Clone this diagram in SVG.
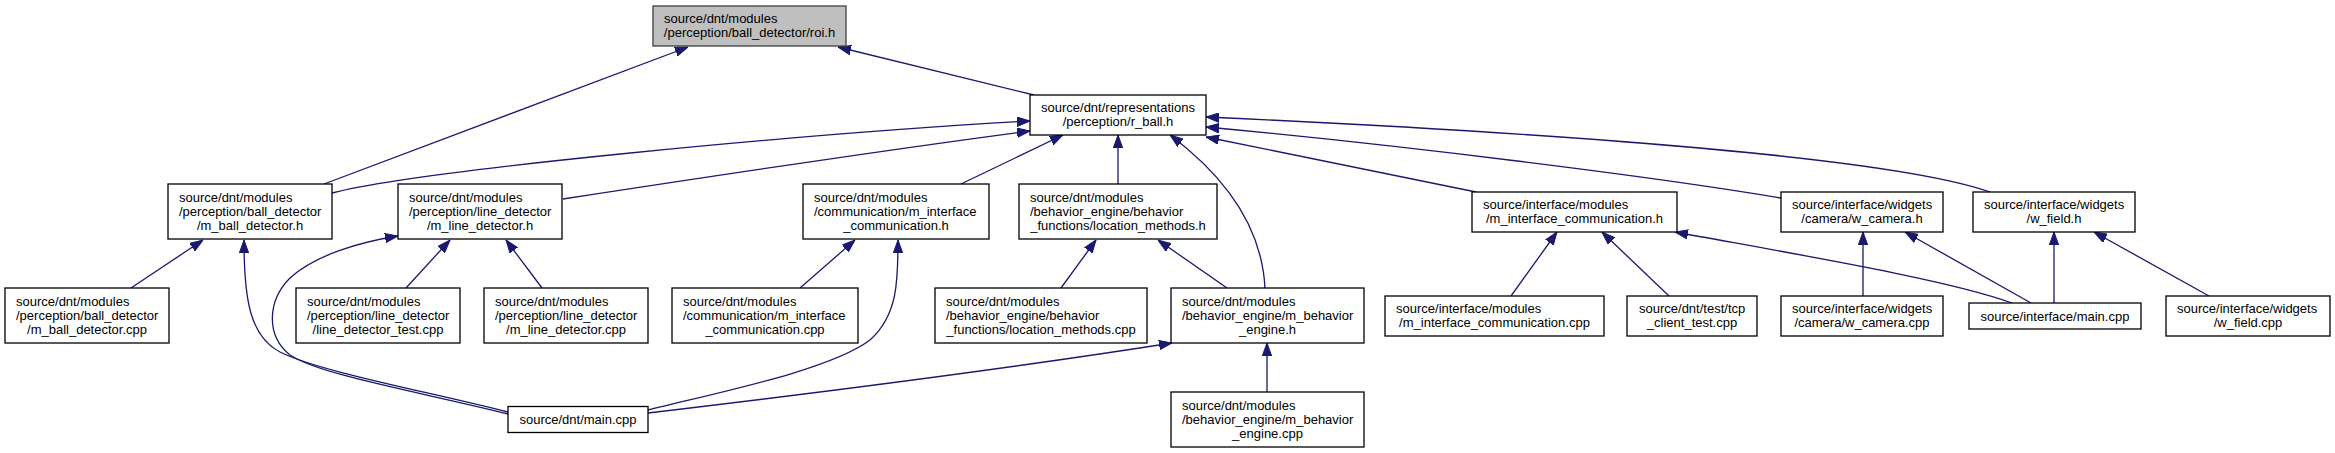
<svg xmlns="http://www.w3.org/2000/svg" width="2335" height="453" viewBox="0 0 2335 453">
<style>
.bg{fill:#ffffff}
.n rect{fill:#ffffff;stroke:#000000;stroke-width:1.3}
.n rect.root{fill:#bfbfbf;stroke:#404040}
.n text{font-family:"Liberation Sans",Arial,sans-serif;font-size:13px;fill:#000000}
.c{text-anchor:middle}
.e path{fill:none;stroke:#191970;stroke-width:1.3;marker-end:url(#ah)}
</style>
<defs>
<marker id="ah" viewBox="0 0 13 10" refX="13" refY="5" markerWidth="13" markerHeight="10" markerUnits="userSpaceOnUse" orient="auto">
<path d="M0,0.3 L13,5 L0,9.7 z" fill="#191970" stroke="#191970" stroke-width="1"/>
</marker>
</defs>
<rect class="bg" x="0" y="0" width="2335" height="453"/>
<g id="edges" class="e">
<path d="M324,184 L688,47"/>
<path d="M1034,95 L838,47"/>
<path d="M332,193 C420,170 800,134 1030,121"/>
<path d="M563,199 C700,178 900,148 1030,131"/>
<path d="M961,184 L1063,135"/>
<path d="M1118,184 L1118,135"/>
<path d="M1265,288 C1262,230 1230,180 1170,135"/>
<path d="M1476,192 L1206,137"/>
<path d="M1781,198 C1650,176 1400,145 1206,127"/>
<path d="M1990,192 C1900,160 1600,135 1206,117"/>
<path d="M131,288 L203,240"/>
<path d="M508,412 C430,392 320,372 280,352 C250,336 244,300 244,240"/>
<path d="M406,288 L450,240"/>
<path d="M542,288 L506,240"/>
<path d="M508,414 C420,392 320,375 290,355 C265,335 268,300 290,278 C315,255 360,242 398,236"/>
<path d="M800,288 L855,240"/>
<path d="M648,410 C720,392 830,370 870,340 C898,315 898,280 898,240"/>
<path d="M1061,288 L1096,240"/>
<path d="M1227,288 L1158,240"/>
<path d="M648,413 C800,395 1000,370 1172,343"/>
<path d="M1267,392 L1267,343"/>
<path d="M1511,296 L1557,232"/>
<path d="M1669,296 L1602,232"/>
<path d="M2012,303 C1950,280 1800,255 1675,232"/>
<path d="M1863,296 L1863,232"/>
<path d="M2031,303 L1905,232"/>
<path d="M2054,303 L2054,232"/>
<path d="M2209,296 L2094,232"/>
</g>
<g id="roi_h" class="n">
<rect class="root" x="653" y="6" width="193" height="40"/>
<text x="664" y="23">source/dnt/modules</text>
<text class="c" x="749.5" y="37">/perception/ball_detector/roi.h</text>
</g>
<g id="r_ball_h" class="n">
<rect x="1030" y="95" width="176" height="40"/>
<text x="1041" y="112">source/dnt/representations</text>
<text class="c" x="1118" y="126">/perception/r_ball.h</text>
</g>
<g id="m_ball_detector_h" class="n">
<rect x="168" y="184" width="164" height="55"/>
<text x="179" y="201.5">source/dnt/modules</text>
<text x="179" y="215.5">/perception/ball_detector</text>
<text class="c" x="250" y="229.5">/m_ball_detector.h</text>
</g>
<g id="m_line_detector_h" class="n">
<rect x="398" y="184" width="164" height="55"/>
<text x="409" y="201.5">source/dnt/modules</text>
<text x="409" y="215.5">/perception/line_detector</text>
<text class="c" x="480" y="229.5">/m_line_detector.h</text>
</g>
<g id="dnt_m_interface_communication_h" class="n">
<rect x="803" y="184" width="186" height="55"/>
<text x="814" y="201.5">source/dnt/modules</text>
<text x="814" y="215.5">/communication/m_interface</text>
<text class="c" x="896" y="229.5">_communication.h</text>
</g>
<g id="location_methods_h" class="n">
<rect x="1019" y="184" width="198" height="55"/>
<text x="1030" y="201.5">source/dnt/modules</text>
<text x="1030" y="215.5">/behavior_engine/behavior</text>
<text class="c" x="1118" y="229.5">_functions/location_methods.h</text>
</g>
<g id="if_m_interface_communication_h" class="n">
<rect x="1472" y="192" width="205" height="40"/>
<text x="1483" y="209">source/interface/modules</text>
<text class="c" x="1574.5" y="223">/m_interface_communication.h</text>
</g>
<g id="w_camera_h" class="n">
<rect x="1781" y="192" width="162" height="40"/>
<text x="1792" y="209">source/interface/widgets</text>
<text class="c" x="1862" y="223">/camera/w_camera.h</text>
</g>
<g id="w_field_h" class="n">
<rect x="1973" y="192" width="162" height="40"/>
<text x="1984" y="209">source/interface/widgets</text>
<text class="c" x="2054" y="223">/w_field.h</text>
</g>
<g id="m_ball_detector_cpp" class="n">
<rect x="5" y="288" width="164" height="55"/>
<text x="16" y="305.5">source/dnt/modules</text>
<text x="16" y="319.5">/perception/ball_detector</text>
<text class="c" x="87" y="333.5">/m_ball_detector.cpp</text>
</g>
<g id="line_detector_test_cpp" class="n">
<rect x="296" y="288" width="164" height="55"/>
<text x="307" y="305.5">source/dnt/modules</text>
<text x="307" y="319.5">/perception/line_detector</text>
<text class="c" x="378" y="333.5">/line_detector_test.cpp</text>
</g>
<g id="m_line_detector_cpp" class="n">
<rect x="484" y="288" width="164" height="55"/>
<text x="495" y="305.5">source/dnt/modules</text>
<text x="495" y="319.5">/perception/line_detector</text>
<text class="c" x="566" y="333.5">/m_line_detector.cpp</text>
</g>
<g id="dnt_m_interface_communication_cpp" class="n">
<rect x="672" y="288" width="186" height="55"/>
<text x="683" y="305.5">source/dnt/modules</text>
<text x="683" y="319.5">/communication/m_interface</text>
<text class="c" x="765" y="333.5">_communication.cpp</text>
</g>
<g id="location_methods_cpp" class="n">
<rect x="935" y="288" width="212" height="55"/>
<text x="946" y="305.5">source/dnt/modules</text>
<text x="946" y="319.5">/behavior_engine/behavior</text>
<text class="c" x="1041" y="333.5">_functions/location_methods.cpp</text>
</g>
<g id="m_behavior_engine_h" class="n">
<rect x="1171" y="288" width="193" height="55"/>
<text x="1182" y="305.5">source/dnt/modules</text>
<text x="1182" y="319.5">/behavior_engine/m_behavior</text>
<text class="c" x="1267.5" y="333.5">_engine.h</text>
</g>
<g id="m_behavior_engine_cpp" class="n">
<rect x="1171" y="392" width="193" height="55"/>
<text x="1182" y="409.5">source/dnt/modules</text>
<text x="1182" y="423.5">/behavior_engine/m_behavior</text>
<text class="c" x="1267.5" y="437.5">_engine.cpp</text>
</g>
<g id="if_m_interface_communication_cpp" class="n">
<rect x="1385" y="296" width="219" height="40"/>
<text x="1396" y="313">source/interface/modules</text>
<text class="c" x="1494.5" y="327">/m_interface_communication.cpp</text>
</g>
<g id="tcp_client_test_cpp" class="n">
<rect x="1627" y="296" width="130" height="40"/>
<text x="1639" y="313">source/dnt/test/tcp</text>
<text class="c" x="1692" y="327">_client_test.cpp</text>
</g>
<g id="w_camera_cpp" class="n">
<rect x="1781" y="296" width="162" height="40"/>
<text x="1792" y="313">source/interface/widgets</text>
<text class="c" x="1862" y="327">/camera/w_camera.cpp</text>
</g>
<g id="if_main_cpp" class="n">
<rect x="1969" y="303" width="172" height="26"/>
<text class="c" x="2055" y="320.5">source/interface/main.cpp</text>
</g>
<g id="w_field_cpp" class="n">
<rect x="2166" y="296" width="164" height="40"/>
<text x="2177" y="313">source/interface/widgets</text>
<text class="c" x="2248" y="327">/w_field.cpp</text>
</g>
<g id="dnt_main_cpp" class="n">
<rect x="508" y="406.5" width="140" height="26"/>
<text class="c" x="578" y="424">source/dnt/main.cpp</text>
</g>
</svg>
